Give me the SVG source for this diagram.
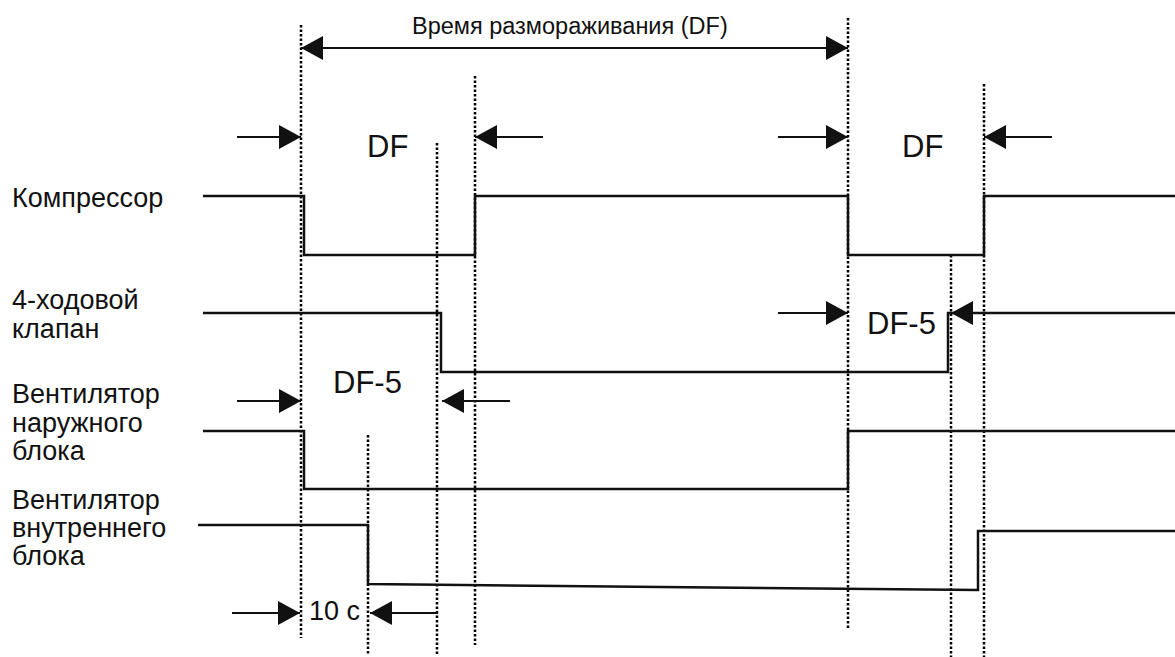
<svg xmlns="http://www.w3.org/2000/svg" width="1175" height="657" viewBox="0 0 1175 657">
<style>
text{font-family:"Liberation Sans",Arial,sans-serif;fill:#111}
.lbl{font-size:27px}
.df{font-size:31px}
.ttl{font-size:23.5px}
.sig{fill:none;stroke:#111;stroke-width:2.5}
.dot{fill:none;stroke:#000;stroke-width:2.5;stroke-dasharray:2.5 2}
.arr{fill:none;stroke:#111;stroke-width:2.2}
</style>
<defs>
<marker id="ah" viewBox="0 0 22 24" refX="22" refY="12" markerWidth="22" markerHeight="24" markerUnits="userSpaceOnUse" orient="auto-start-reverse">
<path d="M0,0 L22,12 L0,24 Z" fill="#111"/>
</marker>
</defs>
<rect width="1175" height="657" fill="#fff"/>
<g id="guides">
<line class="dot" x1="301" y1="25" x2="301" y2="638"/>
<line class="dot" x1="368" y1="435" x2="368" y2="655"/>
<line class="dot" x1="437" y1="143" x2="437" y2="655"/>
<line class="dot" x1="475" y1="76" x2="475" y2="645"/>
<line class="dot" x1="848" y1="18" x2="848" y2="630"/>
<line class="dot" x1="951" y1="255" x2="951" y2="657"/>
<line class="dot" x1="984" y1="84" x2="984" y2="657"/>
</g>
<g id="compressor">
<text class="lbl" x="12" y="207">Компрессор</text>
<path class="sig" d="M203,196 H304 V255 H475 V196 H848 V255 H984 V196 H1175"/>
</g>
<g id="valve">
<text class="lbl" x="12" y="309">4-ходовой</text>
<text class="lbl" x="12" y="338">клапан</text>
<path class="sig" d="M203,313 H441 V372 H948 V313 H1175"/>
</g>
<g id="outdoor-fan">
<text class="lbl" x="12" y="403">Вентилятор</text>
<text class="lbl" x="12" y="432">наружного</text>
<text class="lbl" x="12" y="460">блока</text>
<path class="sig" d="M203,431 H304 V489 H848 V431 H1175"/>
</g>
<g id="indoor-fan">
<text class="lbl" x="12" y="509">Вентилятор</text>
<text class="lbl" x="12" y="537">внутреннего</text>
<text class="lbl" x="12" y="565">блока</text>
<path class="sig" d="M198,525 H368 V584 L978,590 V531 H1175"/>
</g>
<g id="connectors">
<line class="arr" x1="301" y1="48" x2="848" y2="48" marker-start="url(#ah)" marker-end="url(#ah)"/>
<line class="arr" x1="237" y1="137" x2="301" y2="137" marker-end="url(#ah)"/>
<line class="arr" x1="543" y1="137" x2="475" y2="137" marker-end="url(#ah)"/>
<line class="arr" x1="778" y1="137" x2="848" y2="137" marker-end="url(#ah)"/>
<line class="arr" x1="1052" y1="137" x2="984" y2="137" marker-end="url(#ah)"/>
<line class="arr" x1="778" y1="313" x2="848" y2="313" marker-end="url(#ah)"/>
<line class="arr" x1="1175" y1="313" x2="951" y2="313" marker-end="url(#ah)"/>
<line class="arr" x1="237" y1="401" x2="301" y2="401" marker-end="url(#ah)"/>
<line class="arr" x1="510" y1="401" x2="442" y2="401" marker-end="url(#ah)"/>
<line class="arr" x1="232" y1="613" x2="300" y2="613" marker-end="url(#ah)"/>
<line class="arr" x1="438" y1="613" x2="370" y2="613" marker-end="url(#ah)"/>
</g>
<g id="labels">
<text class="ttl" x="412" y="34">Время размораживания (DF)</text>
<text class="df" x="367" y="157">DF</text>
<text class="df" x="902" y="157">DF</text>
<text class="df" x="333" y="393">DF-5</text>
<text class="df" x="867" y="334">DF-5</text>
<text class="lbl" x="309" y="620">10 с</text>
</g>
</svg>
